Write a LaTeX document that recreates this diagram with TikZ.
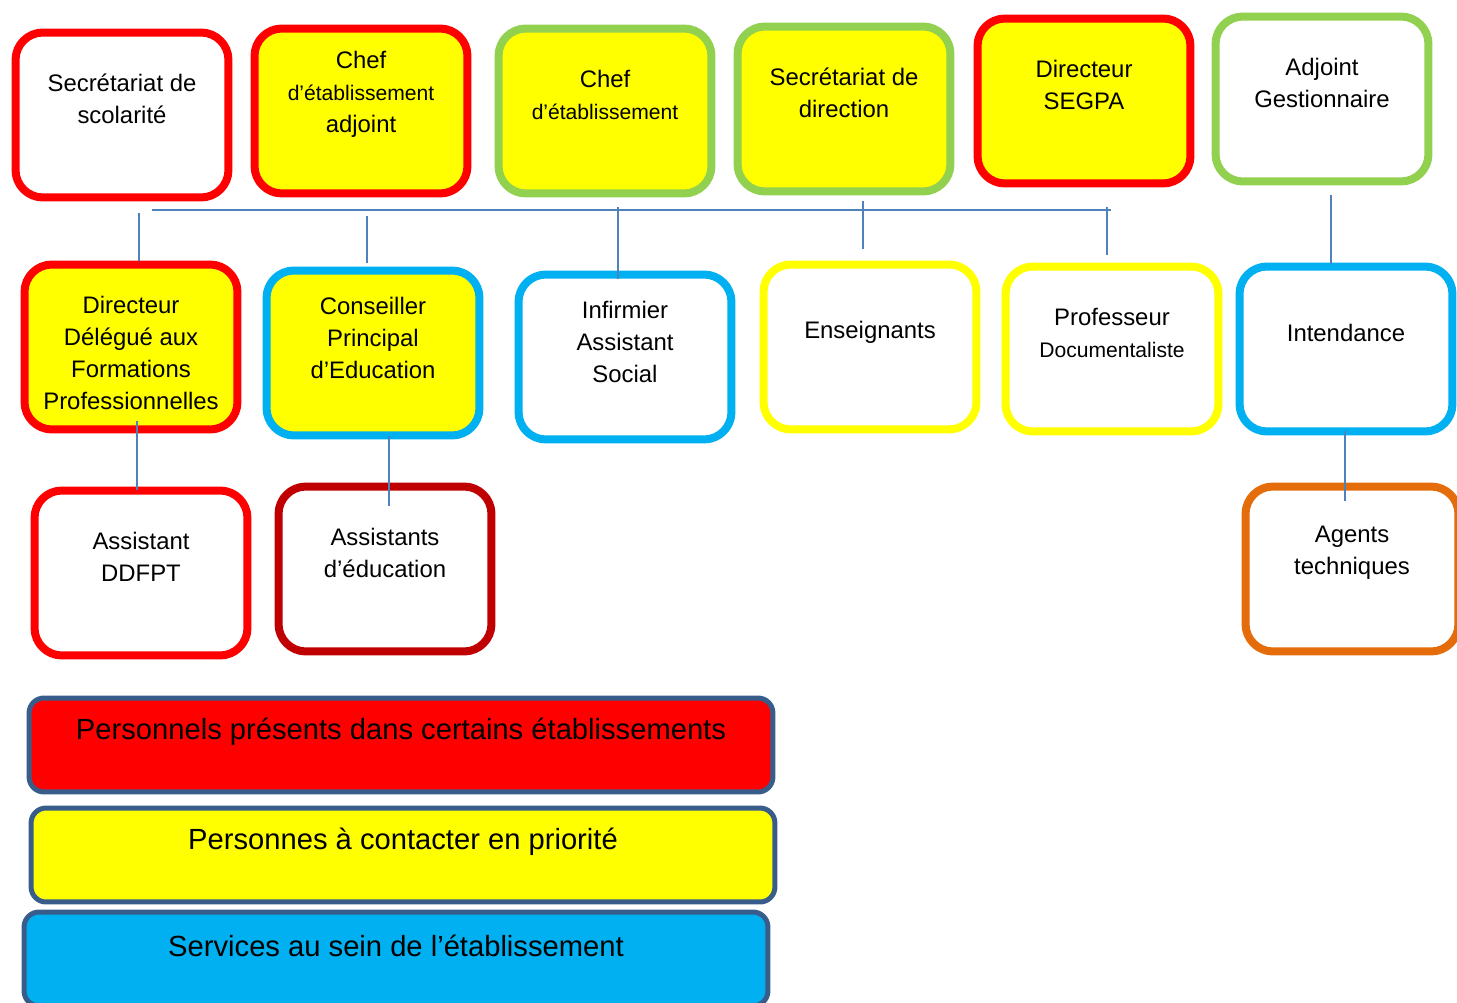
\documentclass[tikz,border=0pt]{standalone}
\usepackage{fontspec}
\setmainfont{Liberation Sans}
\usepackage{tikz}
\usetikzlibrary{positioning,calc}
\usepackage{xcolor}

\definecolor{boxred}{HTML}{FF0000}
\definecolor{boxyellow}{HTML}{FFFF00}
\definecolor{boxgreen}{HTML}{92D050}
\definecolor{boxcyan}{HTML}{00B0F0}
\definecolor{boxdarkred}{HTML}{C00000}
\definecolor{boxorange}{HTML}{E46C0A}
\definecolor{linkblue}{HTML}{4F81BD}
\definecolor{legborder}{HTML}{385D8A}
\newcommand{\smalltxt}{\fontsize{12}{17}\selectfont}

\begin{document}
\begin{tikzpicture}[x=0.02cm, y=-0.02cm,
    box/.style={draw=#1, line width=0.16cm, rounded corners=0.55cm, minimum width=4.26cm, minimum height=3.3cm},
    txt/.style={align=center, font=\fontsize{13.6}{18.2}\selectfont, yshift=9.4pt},
    legend/.style={draw=legborder, line width=0.1cm, rounded corners=0.3cm, minimum width=14.88cm, minimum height=1.88cm},
    legtxt/.style={font=\fontsize{16.6}{20}\selectfont, yshift=7.4pt},
    link/.style={draw=linkblue, line width=1.1pt}]
                    \useasboundingbox (0,0) rectangle (1457,1003);
                    % Row 1
                    \node[box=boxred, fill=white, label={[txt]center:{Secrétariat de\\scolarité}}] (sco) at (122,115) {};
                    \node[box=boxred, fill=boxyellow, label={[txt]center:{Chef\\{\smalltxt d’établissement}\\adjoint}}] (adj) at (361,111) {};
                    \node[box=boxgreen, fill=boxyellow, label={[txt]center:{Chef\\{\smalltxt d’établissement}}}] (chef) at (605,111) {};
                    \node[box=boxgreen, fill=boxyellow, label={[txt]center:{Secrétariat de\\direction}}] (secd) at (844,109) {};
                    \node[box=boxred, fill=boxyellow, label={[txt]center:{Directeur\\SEGPA}}] (segpa) at (1084,101) {};
                    \node[box=boxgreen, fill=white, label={[txt]center:{Adjoint\\Gestionnaire}}] (gest) at (1322,99) {};
                    % Row 2
                    \node[box=boxred, fill=boxyellow, label={[txt, yshift=-12.8pt]center:{Directeur\\Délégué aux\\Formations\\Professionnelles}}] (ddf) at (131,347) {};
                    \node[box=boxcyan, fill=boxyellow, label={[txt, yshift=-1pt]center:{Conseiller\\Principal\\d’Education}}] (cpe) at (373,353) {};
                    \node[box=boxcyan, fill=white, label={[txt, yshift=-1pt]center:{Infirmier\\Assistant\\Social}}] (inf) at (625,357) {};
                    \node[box=boxyellow, fill=white, label={[txt, yshift=-1pt]center:{Enseignants}}] (ens) at (870,347) {};
                    \node[box=boxyellow, fill=white, label={[txt]center:{Professeur\\{\smalltxt Documentaliste}}}] (doc) at (1112,349) {};
                    \node[box=boxcyan, fill=white, label={[txt]center:{Intendance}}] (int) at (1346,349) {};
                    % Row 3
                    \node[box=boxred, fill=white, label={[txt]center:{Assistant\\DDFPT}}] (addf) at (141,573) {};
                    \node[box=boxdarkred, fill=white, label={[txt]center:{Assistants\\d’éducation}}] (aed) at (385,569) {};
                    \node[box=boxorange, fill=white, label={[txt]center:{Agents\\techniques}}] (agt) at (1352,569) {};
                    % legend
                    \node[legend, fill=boxred, label={[legtxt]center:Personnels présents dans certains établissements}] (lgred) at (401,745) {};
                    \node[legend, fill=boxyellow, label={[legtxt]center:Personnes à contacter en priorité}] (lgyel) at (403,855) {};
                    \node[legend, fill=boxcyan, label={[legtxt]center:Services au sein de l’établissement}] (lgcya) at (396,959) {};
                    % links
                    \coordinate (busL) at (152,210);
                    \coordinate (busR) at (1111,210);
                    \draw[link] (busL) -- (busR);
                    \draw[link] ($(ddf.north)+(8,0)$) -- ++(0,-48);
                    \draw[link] ($(cpe.north)+(-6,-4)$) -- ++(0,-47);
                    \draw[link] ($(inf.north)+(-7,8)$) -- ++(0,-72);
                    \draw[link] ($(ens.north)+(-7,-12)$) -- ++(0,-48);
                    \draw[link] ($(doc.north)+(-5,-8)$) -- ++(0,-48);
                    \draw[link] ($(gest.south)+(9,10)$) -- ($(int.north)+(-15,1)$);
                    \draw[link] ($(ddf.south)+(6,-12)$) -- ($(addf.north)+(-4,3)$);
                    \draw[link] ($(cpe.south)+(16,-3)$) -- ($(aed.north)+(4,23)$);
                    \draw[link] ($(int.south)+(-1,-4)$) -- ($(agt.north)+(-7,18)$);
                \end{tikzpicture}
\end{document}
